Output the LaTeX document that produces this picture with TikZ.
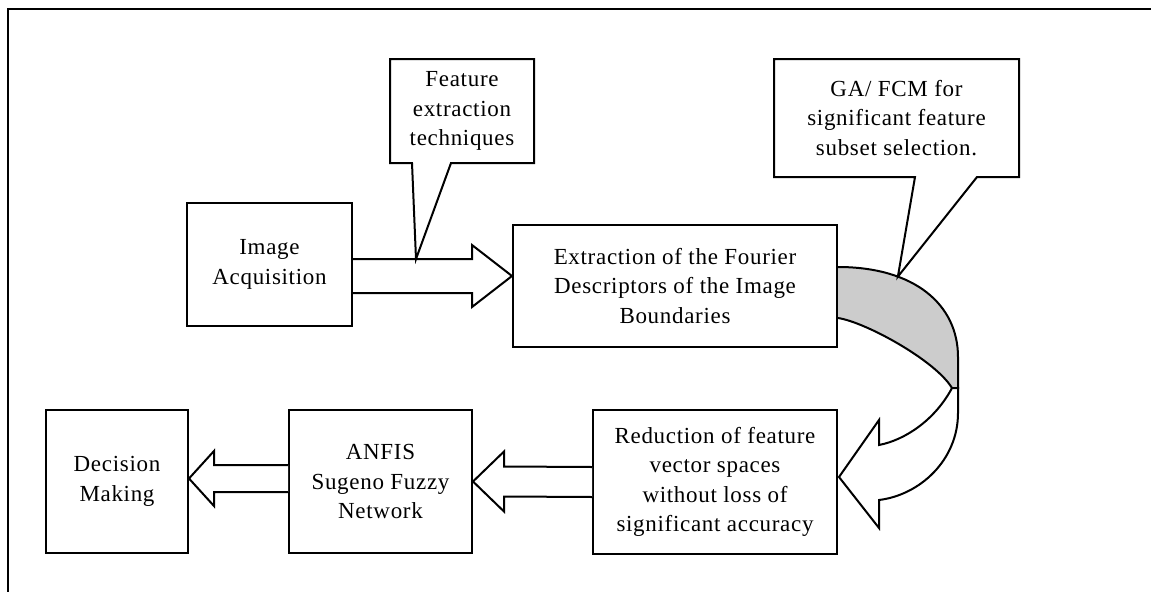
\documentclass[tikz,border=0pt]{standalone}
\usepackage{fontspec}
\setmainfont[LetterSpace=3]{Liberation Serif}
\usetikzlibrary{calc}

\begin{document}
\begin{tikzpicture}[x=1pt, y=-1pt, line width=2pt]
        \tikzstyle{block}=[draw, fill=white, align=center, inner sep=2pt, font=\fontsize{23}{29.5}\selectfont]
        \tikzstyle{note}=[align=center, inner sep=2pt, font=\fontsize{23}{29.5}\selectfont]
        \tikzstyle{fatarr}=[draw, fill=white, line join=miter]

        \useasboundingbox (0,0) rectangle (1151,592);
        \draw[line width=1.5pt] (1151,9) -- (8,9) -- (8,592);

% the process boxes
        \node[block, minimum width=165, minimum height=123] (acq) at (269.5,264.5) {Image\\Acquisition};
        \node[block, minimum width=324, minimum height=122] (fourier) at (675,286) {Extraction of the Fourier\\Descriptors of the Image\\Boundaries};
        \node[block, minimum width=244, minimum height=144] (reduce) at (715,482) {Reduction of feature\\vector spaces\\without loss of\\significant accuracy};
        \node[block, minimum width=183, minimum height=143] (anfis) at (380.5,481.5) {ANFIS\\Sugeno Fuzzy\\Network};
        \node[block, minimum width=142, minimum height=143] (decide) at (117,481.5) {Decision\\Making};

% block arrows
        \coordinate (a1) at ($(acq.east)+(0,11.5)$);
        \coordinate (a1tip) at (fourier.west |- a1);
        \draw[fatarr] ($(a1)+(0,-17)$) -- ($(a1tip)+(-40,-17)$) -- ($(a1tip)+(-40,-31)$) -- (a1tip) -- ($(a1tip)+(-40,31)$) -- ($(a1tip)+(-40,17)$) -- ($(a1)+(0,17)$);
        \coordinate (featpt) at ($(a1)+(63,-17)$);

        \draw[fatarr] ($(reduce.west)+(0,-15)$) -- ($(anfis.east)+(31,-15)$) -- ($(anfis.east)+(31,-30)$) -- (anfis.east) -- ($(anfis.east)+(31,30)$) -- ($(anfis.east)+(31,15)$) -- ($(reduce.west)+(0,15)$);

        \coordinate (a3tip) at ($(decide.east)+(0,-3)$);
        \coordinate (a3) at (anfis.west |- a3tip);
        \draw[fatarr] ($(a3)+(0,-13.5)$) -- ($(a3tip)+(25,-13.5)$) -- ($(a3tip)+(25,-27.5)$) -- (a3tip) -- ($(a3tip)+(25,27.5)$) -- ($(a3tip)+(25,13.5)$) -- ($(a3)+(0,13.5)$);

% curved arrow from fourier down to reduce
        \coordinate (bendhi) at (958,357);
        \coordinate (twist) at (952,388);
        \coordinate (bendlo) at (958,413);
        \coordinate (ctip) at ($(reduce.east)+(1,-5)$);
        \draw[fill=gray!40] ($(fourier.east)+(0,-19)$) .. controls (915,267) and (958,305) .. (bendhi) coordinate[pos=0.3] (gapt)
              -- (958,388) -- (twist) .. controls (935,360) and (865,322) .. ($(fourier.east)+(0,32)$);
        \draw[fill=white, line join=miter] (twist) .. controls (935,420) and (905,440) .. ($(ctip)+(40,-32)$) -- ($(ctip)+(40,-57)$) -- (ctip)
              -- ($(ctip)+(40,51)$) -- ($(ctip)+(40,23)$) .. controls (920,495) and (958,460) .. (bendlo) -- (958,388) -- cycle;

% callouts
        \node[note, minimum width=142, minimum height=102] (feat) at (462,111) {Feature\\extraction\\techniques};
        \draw (feat.south west) -- (feat.north west) -- (feat.north east) -- (feat.south east) -- ($(feat.south west)+(61,0)$) -- (featpt) -- ($(feat.south west)+(22,0)$) -- cycle;

        \node[note, minimum width=243, minimum height=116] (ga) at (896.5,118) {GA/ FCM for\\significant feature\\subset selection.};
        \draw (ga.south west) -- (ga.north west) -- (ga.north east) -- (ga.south east) -- ($(ga.south west)+(203,0)$) -- (gapt) -- ($(ga.south west)+(141,0)$) -- cycle;

    \end{tikzpicture}
\end{document}
